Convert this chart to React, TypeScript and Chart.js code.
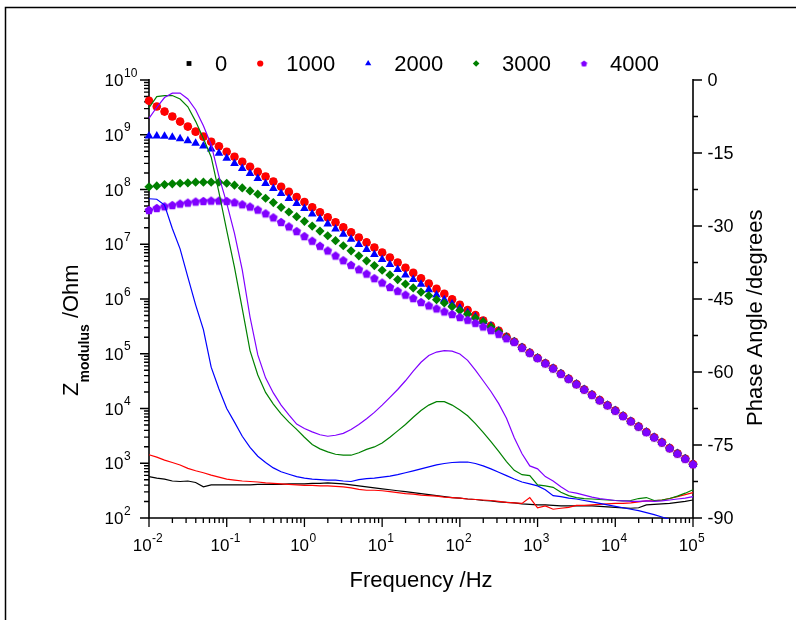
import React, { useEffect, useRef } from 'react';
import { Chart, registerables } from 'chart.js';

Chart.register(...registerables);

// ---------------- data ----------------
const frequencyHz = [
  0.01, 0.012589, 0.015849, 0.019953, 0.025119, 0.031623, 0.039811, 0.050119, 0.063096, 0.079433,
  0.1, 0.12589, 0.15849, 0.19953, 0.25119, 0.31623, 0.39811, 0.50119, 0.63096, 0.79433,
  1, 1.2589, 1.5849, 1.9953, 2.5119, 3.1623, 3.9811, 5.0119, 6.3096, 7.9433,
  10, 12.589, 15.849, 19.953, 25.119, 31.623, 39.811, 50.119, 63.096, 79.433,
  100, 125.89, 158.49, 199.53, 251.19, 316.23, 398.11, 501.19, 630.96, 794.33,
  1000, 1258.9, 1584.9, 1995.3, 2511.9, 3162.3, 3981.1, 5011.9, 6309.6, 7943.3,
  10000, 12589, 15849, 19953, 25119, 31623, 39811, 50119, 63096, 79433,
  100000,
];

const seriesLabels = ['0', '1000', '2000', '3000', '4000'];

// |Z| (Ohm)
const zModulus0 = [
  4.17e9, 3.28e9, 2.65e9, 2.15e9, 1.74e9, 1.41e9, 1.14e9, 9.23e8, 7.46e8, 6.15e8,
  4.90e8, 3.96e8, 3.21e8, 2.60e8, 2.10e8, 1.73e8, 1.40e8, 1.12e8, 9.04e7, 7.31e7,
  5.92e7, 4.73e7, 3.83e7, 3.10e7, 2.51e7, 2.03e7, 1.65e7, 1.33e7, 1.08e7, 8.73e6,
  7.08e6, 5.73e6, 4.63e6, 3.71e6, 3.00e6, 2.39e6, 1.91e6, 1.53e6, 1.24e6, 9.86e5,
  7.85e5, 6.28e5, 5.08e5, 4.06e5, 3.24e5, 2.62e5, 2.03e5, 1.66e5, 1.30e5, 1.04e5,
  8.38e4, 6.70e4, 5.42e4, 4.32e4, 3.49e4, 2.79e4, 2.23e4, 1.78e4, 1.42e4, 1.15e4,
  9.18e3, 7.31e3, 5.85e3, 4.68e3, 3.72e3, 2.98e3, 2.41e3, 1.89e3, 1.51e3, 1.21e3,
  9.62e2,
];
const zModulus1000 = [
  4.17e9, 3.28e9, 2.65e9, 2.15e9, 1.74e9, 1.41e9, 1.14e9, 9.23e8, 7.46e8, 6.15e8,
  4.90e8, 3.96e8, 3.21e8, 2.60e8, 2.10e8, 1.73e8, 1.40e8, 1.12e8, 9.04e7, 7.31e7,
  5.92e7, 4.73e7, 3.83e7, 3.10e7, 2.51e7, 2.03e7, 1.65e7, 1.33e7, 1.08e7, 8.73e6,
  7.08e6, 5.73e6, 4.63e6, 3.71e6, 3.00e6, 2.39e6, 1.91e6, 1.53e6, 1.24e6, 9.86e5,
  7.85e5, 6.28e5, 5.08e5, 4.06e5, 3.24e5, 2.62e5, 2.03e5, 1.66e5, 1.30e5, 1.04e5,
  8.38e4, 6.70e4, 5.42e4, 4.32e4, 3.49e4, 2.79e4, 2.23e4, 1.78e4, 1.42e4, 1.15e4,
  9.18e3, 7.31e3, 5.85e3, 4.68e3, 3.72e3, 2.98e3, 2.41e3, 1.89e3, 1.51e3, 1.21e3,
  9.62e2,
];
const zModulus2000 = [
  9.51e8, 9.50e8, 9.38e8, 8.99e8, 8.49e8, 7.80e8, 6.98e8, 6.24e8, 5.50e8, 4.57e8,
  3.71e8, 3.00e8, 2.43e8, 1.97e8, 1.59e8, 1.29e8, 1.04e8, 8.45e7, 6.84e7, 5.53e7,
  4.48e7, 3.57e7, 2.89e7, 2.34e7, 1.89e7, 1.53e7, 1.24e7, 9.91e6, 8.04e6, 6.50e6,
  5.26e6, 4.26e6, 3.45e6, 2.75e6, 2.26e6, 1.85e6, 1.48e6, 1.18e6, 9.70e5, 8.09e5,
  6.84e5, 5.68e5, 4.73e5, 3.88e5, 3.20e5, 2.59e5, 2.03e5, 1.66e5, 1.30e5, 1.04e5,
  8.38e4, 6.70e4, 5.42e4, 4.32e4, 3.49e4, 2.79e4, 2.23e4, 1.78e4, 1.42e4, 1.15e4,
  9.18e3, 7.31e3, 5.85e3, 4.68e3, 3.72e3, 2.98e3, 2.41e3, 1.89e3, 1.51e3, 1.21e3,
  9.62e2,
];
const zModulus3000 = [
  1.12e8, 1.16e8, 1.23e8, 1.27e8, 1.30e8, 1.32e8, 1.36e8, 1.36e8, 1.36e8, 1.36e8,
  1.30e8, 1.20e8, 1.07e8, 9.42e7, 8.20e7, 6.92e7, 5.77e7, 4.73e7, 3.88e7, 3.19e7,
  2.62e7, 2.15e7, 1.74e7, 1.43e7, 1.16e7, 9.38e6, 7.60e6, 6.15e6, 4.98e6, 4.08e6,
  3.35e6, 2.75e6, 2.26e6, 1.88e6, 1.59e6, 1.34e6, 1.15e6, 9.70e5, 8.45e5, 7.23e5,
  6.18e5, 5.31e5, 4.48e5, 3.83e5, 3.10e5, 2.55e5, 2.00e5, 1.66e5, 1.30e5, 1.04e5,
  8.38e4, 6.70e4, 5.42e4, 4.32e4, 3.49e4, 2.79e4, 2.23e4, 1.78e4, 1.42e4, 1.15e4,
  9.18e3, 7.31e3, 5.85e3, 4.68e3, 3.72e3, 2.98e3, 2.41e3, 1.89e3, 1.51e3, 1.21e3,
  9.62e2,
];
const zModulus4000 = [
  4.23e7, 4.60e7, 4.94e7, 5.21e7, 5.53e7, 5.77e7, 6.03e7, 6.18e7, 6.27e7, 6.27e7,
  6.18e7, 5.85e7, 5.37e7, 4.88e7, 4.30e7, 3.67e7, 3.10e7, 2.55e7, 2.12e7, 1.74e7,
  1.41e7, 1.16e7, 9.38e6, 7.69e6, 6.22e6, 5.11e6, 4.21e6, 3.49e6, 2.91e6, 2.40e6,
  2.00e6, 1.66e6, 1.41e6, 1.20e6, 1.04e6, 8.81e5, 7.64e5, 6.73e5, 5.93e5, 5.31e5,
  4.68e5, 4.17e5, 3.67e5, 3.15e5, 2.70e5, 2.31e5, 1.92e5, 1.65e5, 1.29e5, 1.04e5,
  8.38e4, 6.70e4, 5.42e4, 4.32e4, 3.49e4, 2.79e4, 2.23e4, 1.78e4, 1.42e4, 1.15e4,
  9.18e3, 7.31e3, 5.85e3, 4.68e3, 3.72e3, 2.98e3, 2.41e3, 1.89e3, 1.51e3, 1.21e3,
  9.62e2,
];

// phase angle (degrees)
const phase0 = [
  -81.5, -81.8, -82.0, -82.4, -82.5, -82.4, -82.7, -83.6, -83.2, -83.2,
  -83.2, -83.2, -83.2, -83.2, -83.1, -83.1, -83.1, -83.1, -83.0, -83.0,
  -83.0, -82.9, -82.9, -82.8, -82.9, -83.0, -83.2, -83.4, -83.6, -83.8,
  -84.0, -84.2, -84.4, -84.6, -84.8, -85.0, -85.2, -85.4, -85.6, -85.8,
  -85.9, -86.1, -86.2, -86.4, -86.5, -86.7, -86.8, -86.9, -87.1, -87.2,
  -87.3, -87.3, -87.4, -87.5, -87.5, -87.5, -87.5, -87.5, -87.6, -87.7,
  -87.8, -87.9, -88.0, -87.9, -87.3, -87.2, -87.1, -87.0, -86.8, -86.6,
  -86.3,
];
const phase1000 = [
  -77.0, -77.5, -78.1, -78.6, -79.1, -79.8, -80.3, -80.7, -81.2, -81.6,
  -82.0, -82.2, -82.4, -82.5, -82.6, -82.8, -82.9, -83.0, -83.1, -83.2,
  -83.3, -83.3, -83.4, -83.4, -83.5, -83.6, -83.8, -84.1, -84.3, -84.3,
  -84.4, -84.6, -84.8, -85.0, -85.1, -85.3, -85.4, -85.5, -85.7, -85.8,
  -85.9, -86.1, -86.2, -86.3, -86.4, -86.6, -86.8, -86.9, -87.0, -85.8,
  -87.9, -87.5, -88.2, -88.0, -87.8, -87.4, -87.4, -87.3, -87.2, -87.1,
  -87.0, -87.0, -86.9, -86.7, -86.5, -86.5, -86.3, -86.0, -85.6, -85.2,
  -84.8,
];
const phase2000 = [
  -24.4, -24.5, -25.7, -30.5, -34.7, -40.5, -46.2, -51.3, -59.0, -63.5,
  -67.5, -70.3, -73.2, -75.5, -77.3, -78.6, -79.7, -80.5, -81.0, -81.5,
  -81.8, -82.0, -82.1, -82.2, -82.2, -82.4, -82.5, -82.1, -81.9, -81.8,
  -81.6, -81.4, -81.1, -80.7, -80.3, -79.9, -79.5, -79.1, -78.8, -78.6,
  -78.5, -78.5, -78.8, -79.3, -79.9, -80.6, -81.3, -82.0, -82.6, -83.0,
  -83.4, -84.2, -85.4, -85.6, -85.9, -86.1, -86.4, -86.7, -87.0, -87.3,
  -87.6, -87.9, -88.2, -88.5, -88.9, -89.3, -89.8, -90.3, -90.8, -91.3,
  -91.8,
];
const phase3000 = [
  -5.7, -3.4, -3.2, -3.2, -3.9, -5.5, -8.5, -12.0, -15.8, -23.1,
  -30.9, -38.5, -47.0, -55.6, -60.6, -64.2, -66.6, -68.6, -70.3, -71.8,
  -73.4, -74.9, -75.8, -76.4, -76.9, -77.1, -77.1, -76.6, -75.9, -75.4,
  -74.6, -73.4, -72.1, -70.8, -69.3, -67.9, -66.8, -66.1, -66.1, -66.8,
  -67.8, -69.0, -70.6, -72.4, -74.3, -76.3, -78.4, -80.2, -81.1, -81.3,
  -83.2, -83.4, -83.7, -84.7, -85.4, -85.8, -86.0, -86.1, -86.2, -86.3,
  -86.4, -86.5, -86.4, -86.0, -85.8, -86.4, -86.3, -86.0, -85.5, -84.9,
  -84.2,
];
const phase4000 = [
  -7.9, -5.6, -3.6, -2.7, -2.7, -3.9, -6.1, -9.4, -13.3, -19.8,
  -25.3, -31.5, -39.0, -48.7, -56.5, -61.2, -64.3, -66.8, -68.8, -70.7,
  -71.6, -72.3, -72.9, -73.2, -73.0, -72.6, -71.8, -70.8, -69.6, -68.3,
  -66.8, -65.2, -63.6, -61.8, -59.8, -58.0, -56.6, -55.9, -55.6, -55.7,
  -56.3, -57.6, -59.6, -61.8, -64.0, -66.5, -69.5, -73.5, -76.8, -79.3,
  -79.9, -81.5, -82.4, -83.6, -84.6, -84.9, -85.3, -85.7, -86.0, -86.2,
  -86.4, -86.5, -86.6, -86.6, -86.5, -86.6, -86.5, -86.3, -86.1, -85.9,
  -85.6,
];

// axis ticks
const xDecades = [-2, -1, 0, 1, 2, 3, 4, 5];
const yDecades = [2, 3, 4, 5, 6, 7, 8, 9, 10];
const minorMultipliers = [2, 3, 4, 5, 6, 7, 8, 9];
const phaseMajorTicks = [0, -15, -30, -45, -60, -75, -90];
const phaseMinorTicks = [-7.5, -22.5, -37.5, -52.5, -67.5, -82.5];

// ---------------- styles ----------------
const COLORS = ['#000000', '#FF0000', '#0000FF', '#008000', '#8000FF'];
const MARKERS = ['rect', 'circle', 'triangle', 'rectRot', 'pentagon'];
const RADII = [4.4, 4.3, 5.0, 4.6, 4.6];
const LEGEND_RADII = [3.4, 3.1, 3.6, 3.3, 3.3];
const FONT = "'Liberation Sans', Arial, Helvetica, sans-serif";

function makePentagon(color: string, r: number): HTMLCanvasElement {
  const size = Math.ceil(2 * r + 2);
  const c = document.createElement('canvas');
  c.width = size;
  c.height = size;
  const g = c.getContext('2d')!;
  g.fillStyle = color;
  g.beginPath();
  const cx = size / 2;
  const cy = size / 2 + r * 0.095;
  for (let i = 0; i < 5; i++) {
    const a = -Math.PI / 2 + (i * 2 * Math.PI) / 5;
    const px = cx + r * Math.cos(a);
    const py = cy + r * Math.sin(a);
    if (i === 0) g.moveTo(px, py);
    else g.lineTo(px, py);
  }
  g.closePath();
  g.fill();
  return c;
}

function drawLegendMarker(ctx: CanvasRenderingContext2D, kind: string, x: number, y: number, r: number, color: string, img: HTMLCanvasElement | null) {
  ctx.save();
  ctx.fillStyle = color;
  ctx.beginPath();
  if (kind === 'rect') {
    const s = Math.SQRT1_2 * r;
    ctx.rect(x - s, y - s, 2 * s, 2 * s);
  } else if (kind === 'circle') {
    ctx.arc(x, y, r, 0, Math.PI * 2);
  } else if (kind === 'triangle') {
    for (let i = 0; i < 3; i++) {
      const a = (i * 2 * Math.PI) / 3;
      const px = x + Math.sin(a) * r;
      const py = y - Math.cos(a) * r;
      if (i === 0) ctx.moveTo(px, py);
      else ctx.lineTo(px, py);
    }
    ctx.closePath();
  } else if (kind === 'rectRot') {
    ctx.moveTo(x - r, y);
    ctx.lineTo(x, y - r);
    ctx.lineTo(x + r, y);
    ctx.lineTo(x, y + r);
    ctx.closePath();
  }
  if (kind === 'pentagon' && img) {
    ctx.drawImage(img, x - img.width / 2, y - img.height / 2);
  } else {
    ctx.fill();
  }
  ctx.restore();
}

function drawPower(ctx: CanvasRenderingContext2D, exp: number, x: number, baseY: number, mode: 'baseRight' | 'center') {
  const baseFont = `17px ${FONT}`;
  const expFont = `12px ${FONT}`;
  const expStr = String(exp);
  ctx.font = baseFont;
  const wb = ctx.measureText('10').width;
  ctx.font = expFont;
  const we = ctx.measureText(expStr).width;
  const x0 = mode === 'baseRight' ? x - wb : x - (wb + we) / 2;
  ctx.textAlign = 'left';
  ctx.textBaseline = 'alphabetic';
  ctx.font = baseFont;
  ctx.fillText('10', x0, baseY);
  ctx.font = expFont;
  ctx.fillText(expStr, x0 + wb + 0.5, baseY - 9.5);
}

export default function App() {
  const canvasRef = useRef<HTMLCanvasElement | null>(null);

  useEffect(() => {
    const canvas = canvasRef.current;
    if (!canvas) return;
    const pentagon = makePentagon(COLORS[4], RADII[4]);
    const smallPentagon = makePentagon(COLORS[4], LEGEND_RADII[4]);

    const zSeries = [zModulus0, zModulus1000, zModulus2000, zModulus3000, zModulus4000];
    const phaseSeries = [phase0, phase1000, phase2000, phase3000, phase4000];

    const lineSets = [4, 3, 2, 1, 0].map((k) => ({
      label: `phase ${seriesLabels[k]}`,
      data: frequencyHz.map((f, i) => ({ x: f, y: phaseSeries[k][i] })),
      yAxisID: 'y2',
      showLine: true,
      borderColor: COLORS[k],
      backgroundColor: COLORS[k],
      borderWidth: 1.2,
      pointRadius: 0,
      pointHoverRadius: 0,
      tension: 0,
      clip: 1,
    }));
    const markerSets = [4, 3, 2, 1, 0].map((k) => ({
      label: seriesLabels[k],
      data: frequencyHz.map((f, i) => ({ x: f, y: zSeries[k][i] })),
      yAxisID: 'y',
      showLine: false,
      pointStyle: MARKERS[k] === 'pentagon' ? pentagon : MARKERS[k],
      pointRadius: RADII[k],
      pointHoverRadius: RADII[k],
      pointBorderWidth: 0,
      borderColor: COLORS[k],
      backgroundColor: COLORS[k],
      clip: false,
    }));

    const decor = {
      id: 'decor',
      beforeDatasetsDraw(chart: any) {
        const { ctx, chartArea: a, scales } = chart;
        const xs = scales.x, ys = scales.y, ps = scales.y2;
        ctx.save();
        ctx.strokeStyle = '#000';
        // outer frame
        ctx.lineWidth = 1.5;
        ctx.beginPath();
        ctx.moveTo(5.5, chart.height);
        ctx.lineTo(5.5, 7.5);
        ctx.lineTo(chart.width, 7.5);
        ctx.stroke();
        // axes lines
        ctx.lineWidth = 1.6;
        ctx.beginPath();
        ctx.moveTo(a.left, a.top - 1);
        ctx.lineTo(a.left, a.bottom);
        ctx.lineTo(a.right, a.bottom);
        ctx.lineTo(a.right, a.top - 1);
        ctx.stroke();
        ctx.lineWidth = 1.3;
        ctx.beginPath();
        // x ticks
        xDecades.forEach((e) => {
          const p = xs.getPixelForValue(Math.pow(10, e));
          ctx.moveTo(p, a.bottom);
          ctx.lineTo(p, a.bottom + 9);
          if (e < 5) {
            minorMultipliers.forEach((m) => {
              const q = xs.getPixelForValue(m * Math.pow(10, e));
              ctx.moveTo(q, a.bottom);
              ctx.lineTo(q, a.bottom + 5);
            });
          }
        });
        // y (log) ticks
        yDecades.forEach((e) => {
          const p = ys.getPixelForValue(Math.pow(10, e));
          ctx.moveTo(a.left, p);
          ctx.lineTo(a.left - 9, p);
          if (e < 10) {
            minorMultipliers.forEach((m) => {
              const q = ys.getPixelForValue(m * Math.pow(10, e));
              ctx.moveTo(a.left, q);
              ctx.lineTo(a.left - 5, q);
            });
          }
        });
        // phase ticks
        phaseMajorTicks.forEach((v) => {
          const p = ps.getPixelForValue(v);
          ctx.moveTo(a.right, p);
          ctx.lineTo(a.right + 9, p);
        });
        phaseMinorTicks.forEach((v) => {
          const p = ps.getPixelForValue(v);
          ctx.moveTo(a.right, p);
          ctx.lineTo(a.right + 5, p);
        });
        ctx.stroke();

        // tick labels
        ctx.fillStyle = '#000';
        yDecades.forEach((e) => {
          const p = ys.getPixelForValue(Math.pow(10, e));
          drawPower(ctx, e, a.left - 25.5, p + 6, 'baseRight');
        });
        xDecades.forEach((e) => {
          const p = xs.getPixelForValue(Math.pow(10, e));
          drawPower(ctx, e, p - 1.5, a.bottom + 33, 'center');
        });
        ctx.font = `18px ${FONT}`;
        ctx.textAlign = 'left';
        ctx.textBaseline = 'alphabetic';
        phaseMajorTicks.forEach((v) => {
          const p = ps.getPixelForValue(v);
          ctx.fillText(String(v), a.right + 14.5, p + 6.4);
        });

        // axis titles
        ctx.font = `22px ${FONT}`;
        ctx.textAlign = 'center';
        ctx.fillText('Frequency /Hz', (a.left + a.right) / 2, a.bottom + 69);

        // left title with subscript
        ctx.save();
        ctx.translate(77.5, 396);
        ctx.rotate(-Math.PI / 2);
        ctx.textAlign = 'left';
        ctx.font = `22px ${FONT}`;
        ctx.fillText('Z', 0, 0);
        const wz = ctx.measureText('Z').width;
        ctx.font = `bold 14px ${FONT}`;
        ctx.fillText('modulus', wz, 11);
        const ws = ctx.measureText('modulus').width;
        ctx.font = `22px ${FONT}`;
        ctx.fillText(' /Ohm', wz + ws, 0);
        ctx.restore();

        // right title
        ctx.save();
        ctx.translate(762, 426);
        ctx.rotate(-Math.PI / 2);
        ctx.textAlign = 'left';
        ctx.font = `22px ${FONT}`;
        ctx.fillText('Phase Angle /degrees', 0, 0);
        ctx.restore();

        // legend
        ctx.font = `22px ${FONT}`;
        ctx.textAlign = 'left';
        let lx = 189;
        const ly = 63.5;
        seriesLabels.forEach((lab, k) => {
          drawLegendMarker(ctx, MARKERS[k], lx, ly, LEGEND_RADII[k], COLORS[k], k === 4 ? smallPentagon : null);
          const tx = lx + 26;
          ctx.fillText(lab, tx, ly + 7.5);
          lx = tx + ctx.measureText(lab).width + 33;
        });
        ctx.restore();
      },
    };

    const chart = new Chart(canvas, {
      type: 'scatter',
      data: { datasets: [...lineSets, ...markerSets] as any },
      options: {
        animation: false,
        responsive: false,
        events: [],
        layout: { padding: { left: 149, right: 103, top: 80, bottom: 102 } },
        plugins: { legend: { display: false }, tooltip: { enabled: false } },
        scales: {
          x: { type: 'logarithmic', min: 0.01, max: 100000, display: false },
          y: { type: 'logarithmic', min: 100, max: 1e10, display: false },
          y2: { type: 'linear', min: -90, max: 0, display: false, position: 'right' },
        },
      },
      plugins: [decor],
    });
    return () => chart.destroy();
  }, []);

  return (
    <div style={{ position: 'absolute', left: 0, top: 0, width: 796, height: 620, background: '#fff' }}>
      <canvas ref={canvasRef} width={796} height={620} style={{ display: 'block' }} />
    </div>
  );
}
